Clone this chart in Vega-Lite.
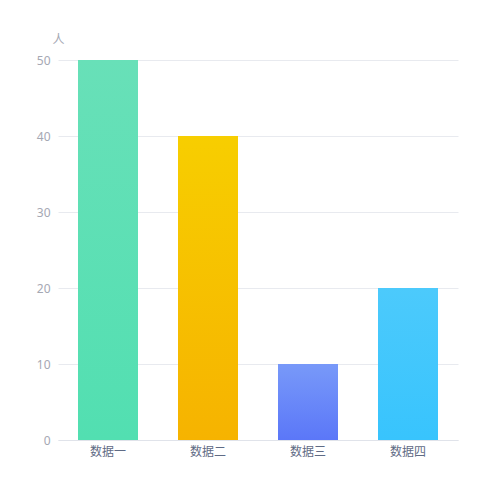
{
  "$schema": "https://vega.github.io/schema/vega-lite/v6.json",
  "autosize": {"type": "none"},
  "width": 400,
  "height": 380,
  "padding": {"left": 58, "top": 60, "right": 42, "bottom": 60},
  "background": "#ffffff",
  "config": {
    "view": {"stroke": null},
    "font": "Noto Sans CJK SC"
  },
  "data": {
    "values": [
      {"name": "数据一", "value": 50},
      {"name": "数据二", "value": 40},
      {"name": "数据三", "value": 10},
      {"name": "数据四", "value": 20}
    ]
  },
  "encoding": {
    "x": {
      "field": "name",
      "type": "nominal",
      "sort": ["数据一", "数据二", "数据三", "数据四"],
      "scale": {"paddingInner": 0, "paddingOuter": 0},
      "axis": {
        "title": null,
        "labelAngle": 0,
        "domain": true,
        "domainColor": "#e0e3ea",
        "domainWidth": 1,
        "ticks": false,
        "labelColor": "#5f6b85",
        "labelFontSize": 12,
        "labelPadding": 6,
        "labelFont": "Noto Sans CJK SC"
      }
    },
    "y": {
      "field": "value",
      "type": "quantitative",
      "scale": {"domain": [0, 50], "nice": false},
      "axis": {
        "title": "人",
        "titleAngle": 0,
        "titleX": 0,
        "titleY": -14,
        "titleAlign": "center",
        "titleBaseline": "bottom",
        "titleColor": "#a5a8b3",
        "titleFontSize": 12,
        "titleFontWeight": "normal",
        "titleFont": "Noto Sans CJK SC",
        "values": [0, 10, 20, 30, 40, 50],
        "domain": false,
        "ticks": false,
        "grid": true,
        "gridColor": "#e8eaef",
        "labelColor": "#a5a8b3",
        "labelFontSize": 12,
        "labelPadding": 8,
        "labelFont": "Noto Sans"
      }
    }
  },
  "layer": [
    {
      "transform": [{"filter": "datum.name === '数据一'"}],
      "mark": {"type": "bar", "size": 60, "color": {"gradient": "linear", "x1": 0, "y1": 0, "x2": 0, "y2": 1, "stops": [{"offset": 0, "color": "#68e0b8"}, {"offset": 1, "color": "#52dfb1"}]}}
    },
    {
      "transform": [{"filter": "datum.name === '数据二'"}],
      "mark": {"type": "bar", "size": 60, "color": {"gradient": "linear", "x1": 0, "y1": 0, "x2": 0, "y2": 1, "stops": [{"offset": 0, "color": "#f7ce00"}, {"offset": 1, "color": "#f6b300"}]}}
    },
    {
      "transform": [{"filter": "datum.name === '数据三'"}],
      "mark": {"type": "bar", "size": 60, "color": {"gradient": "linear", "x1": 0, "y1": 0, "x2": 0, "y2": 1, "stops": [{"offset": 0, "color": "#7899f9"}, {"offset": 1, "color": "#5b77f8"}]}}
    },
    {
      "transform": [{"filter": "datum.name === '数据四'"}],
      "mark": {"type": "bar", "size": 60, "color": {"gradient": "linear", "x1": 0, "y1": 0, "x2": 0, "y2": 1, "stops": [{"offset": 0, "color": "#4ccafc"}, {"offset": 1, "color": "#38c4fd"}]}}
    }
  ]
}
